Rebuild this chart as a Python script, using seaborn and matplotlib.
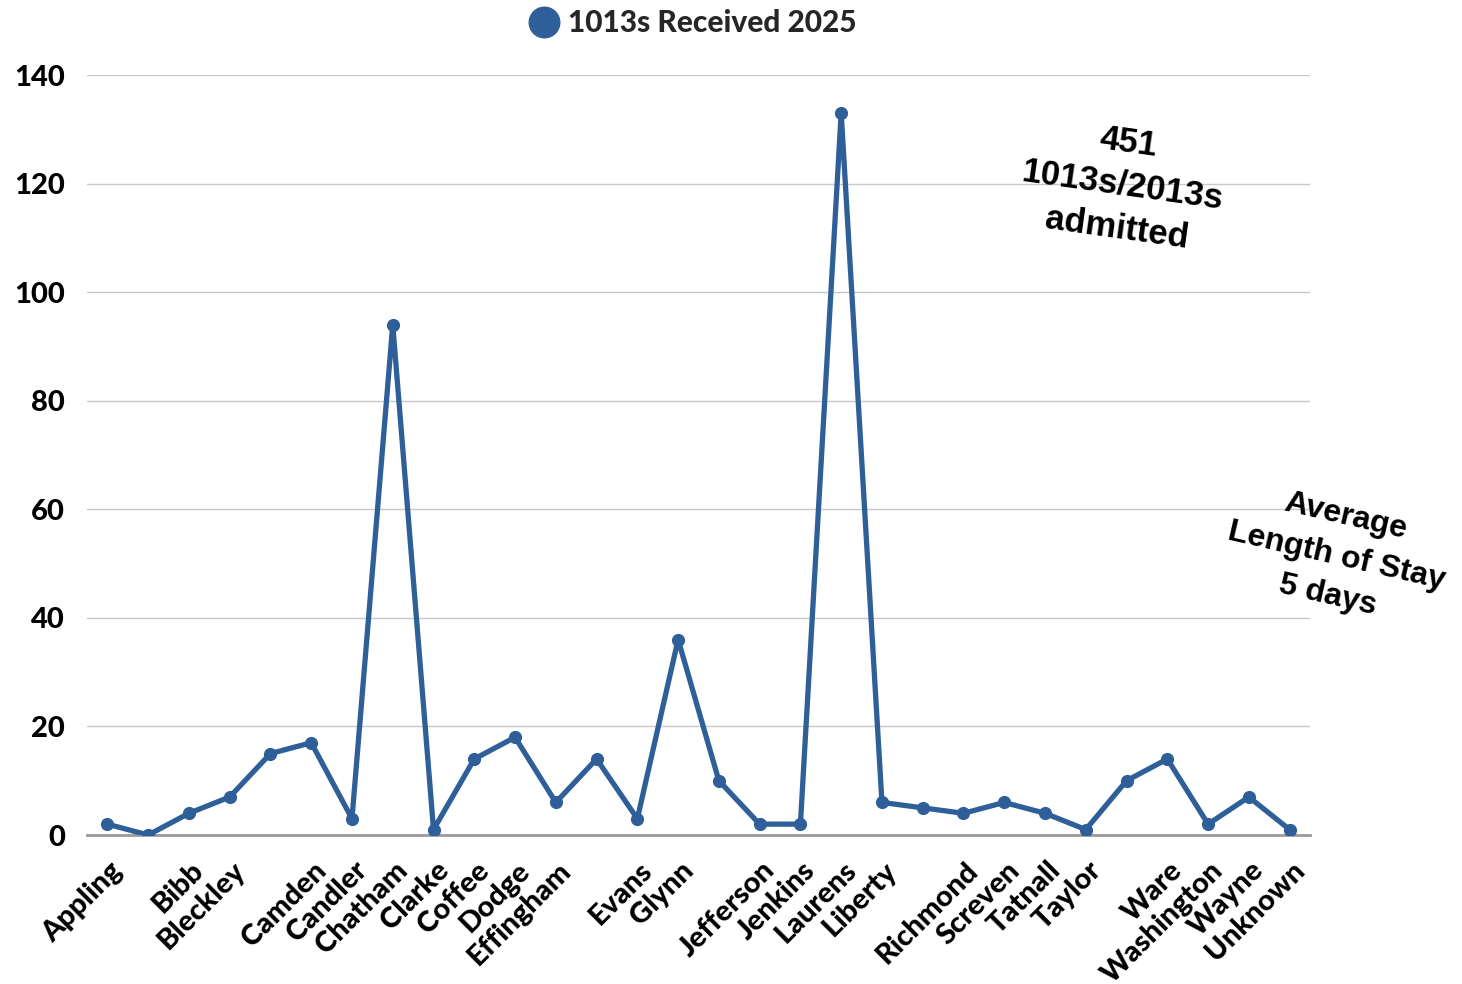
import matplotlib
matplotlib.use("Agg")
import matplotlib.pyplot as plt
import matplotlib.transforms as mtransforms
from matplotlib.lines import Line2D
import seaborn as sns
import pandas as pd

# County tick labels (blank entries are counties whose labels are skipped)
counties = [
    "Appling", "", "Bibb", "Bleckley", "", "Camden", "Candler", "Chatham",
    "Clarke", "Coffee", "Dodge", "Effingham", "", "Evans", "Glynn", "",
    "Jefferson", "Jenkins", "Laurens", "Liberty", "", "Richmond", "Screven",
    "Tatnall", "Taylor", "", "Ware", "Washington", "Wayne", "Unknown",
]
received_2025 = [
    2, 0, 4, 7, 15, 17, 3, 94, 1, 14, 18, 6, 14, 3, 36,
    10, 2, 2, 133, 6, 5, 4, 6, 4, 1, 10, 14, 2, 7, 1,
]
series_label = "1013s Received 2025"
y_ticks = [0, 20, 40, 60, 80, 100, 120, 140]
note_admitted = "451\n1013s/2013s\nadmitted"
note_stay = "Average\nLength of Stay\n5 days"

BLUE = "#2f5f98"
INK = "#000000"
WEIGHT = "black"

sns.set_theme(style="white")
plt.rcParams["font.family"] = ["Lato", "DejaVu Sans"]

df = pd.DataFrame({"pos": range(len(received_2025)), "received": received_2025})

fig = plt.figure(figsize=(14.62, 9.84), dpi=100)
ax = fig.add_axes([87 / 1462, 1 - 835 / 984, (1310 - 87) / 1462, (835 - 75) / 984])

sns.lineplot(data=df, x="pos", y="received", ax=ax, color=BLUE, linewidth=3.8,
             marker="o", markersize=9.5, markeredgewidth=0, legend=False, zorder=3)

ax.set_xlim(-0.5, len(received_2025) - 0.5)
ax.set_ylim(0, 140)
ax.set_xlabel("")
ax.set_ylabel("")

ax.set_yticks(y_ticks)
ax.set_yticklabels([str(v) for v in y_ticks], fontsize=21, fontweight=WEIGHT, color=INK)
ax.yaxis.grid(True, color="#c8c8c8", linewidth=1)
ax.set_axisbelow(True)

for side in ("top", "right", "left"):
    ax.spines[side].set_visible(False)
ax.spines["bottom"].set_color("#9a9a9a")
ax.spines["bottom"].set_linewidth(2)

ax.set_xticks(range(len(counties)))
ax.set_xticklabels(counties, rotation=45, ha="right", va="center",
                   rotation_mode="anchor", fontsize=21, fontweight=WEIGHT,
                   color=INK)
ax.tick_params(axis="both", length=0)
ax.tick_params(axis="x", pad=22.5)
ax.tick_params(axis="y", pad=16)
shift = mtransforms.ScaledTranslation(11 / 100, 0, fig.dpi_scale_trans)
for lbl in ax.get_xticklabels():
    lbl.set_transform(lbl.get_transform() + shift)

handle = Line2D([], [], marker="o", linestyle="none", color=BLUE, markersize=22)
fig.legend(handles=[handle], labels=[series_label], loc="center",
           bbox_to_anchor=(693 / 1462, 1 - 23 / 984), frameon=False,
           prop=dict(family="Lato", weight=WEIGHT, size=21.5),
           handletextpad=0.3, handlelength=1.0, borderaxespad=0, borderpad=0)

ax.text(0.847, 0.855, note_admitted, transform=ax.transAxes, rotation=-8,
        ha="center", va="center", multialignment="center", rotation_mode="anchor",
        family=["Liberation Sans", "DejaVu Sans"], weight="bold", fontsize=25,
        linespacing=1.4, color=INK, clip_on=False)
ax.text(1.022, 0.367, note_stay, transform=ax.transAxes, rotation=-13,
        ha="center", va="center", multialignment="center", rotation_mode="anchor",
        family=["Liberation Sans", "DejaVu Sans"], weight="bold", fontsize=23,
        linespacing=1.45, color=INK, clip_on=False)

fig.savefig("out.png", dpi=100)
